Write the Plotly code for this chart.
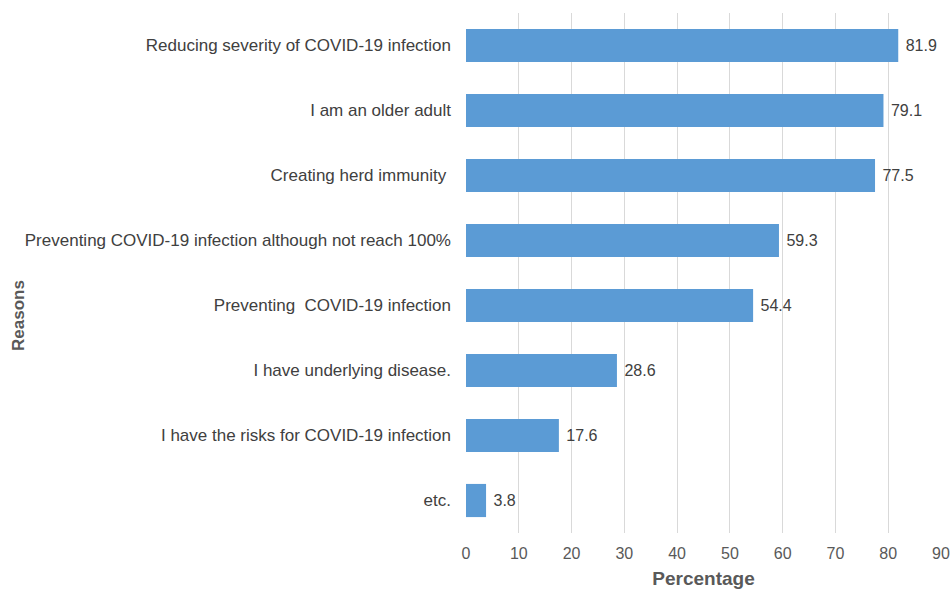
import plotly.graph_objects as go

categories = [
    "Reducing severity of COVID-19 infection",
    "I am an older adult",
    "Creating herd immunity\u00a0",
    "Preventing COVID-19 infection although not reach 100%",
    "Preventing\u00a0 COVID-19 infection",
    "I have underlying disease.",
    "I have the risks for COVID-19 infection",
    "etc.",
]
values = [81.9, 79.1, 77.5, 59.3, 54.4, 28.6, 17.6, 3.8]
x_ticks = [0, 10, 20, 30, 40, 50, 60, 70, 80, 90]

font_family = "Liberation Sans, Arial, sans-serif"
text_color = "#595959"

fig = go.Figure(
    go.Bar(
        x=values,
        y=categories,
        orientation="h",
        marker=dict(color="#5B9BD5", line=dict(width=0)),
        text=[f"\u00a0{v:.1f}" for v in values],
        textposition="outside",
        textfont=dict(family=font_family, size=16, color="#404040"),
        cliponaxis=False,
    )
)

fig.update_layout(
    width=950,
    height=589,
    margin=dict(l=466, r=9, t=13, b=56, autoexpand=False),
    paper_bgcolor="white",
    plot_bgcolor="white",
    bargap=0.49,
    showlegend=False,
    font=dict(family=font_family, color=text_color),
    xaxis=dict(
        range=[0, 90],
        tickvals=x_ticks,
        showgrid=True,
        gridcolor="#D9D9D9",
        gridwidth=1,
        zeroline=False,
        showline=False,
        tickfont=dict(size=16, color=text_color),
        ticks="",
        ticklabelstandoff=9,
        title=dict(text="<b>Percentage</b>", font=dict(size=19, color=text_color), standoff=12),
        fixedrange=True,
    ),
    yaxis=dict(
        categoryorder="array",
        categoryarray=categories[::-1],
        showgrid=False,
        zeroline=False,
        showline=False,
        ticks="",
        ticklabelstandoff=14,
        tickfont=dict(size=17, color="#404040"),
        automargin=False,
    ),
    annotations=[
        dict(
            text="<b>Reasons</b>",
            xref="paper",
            yref="paper",
            x=-466 / 475 + 19 / 475,
            y=(533 - 316) / 520,
            xanchor="center",
            yanchor="middle",
            textangle=-90,
            showarrow=False,
            font=dict(size=17, color=text_color, family=font_family),
        )
    ],
)

fig.write_html("out.html")
